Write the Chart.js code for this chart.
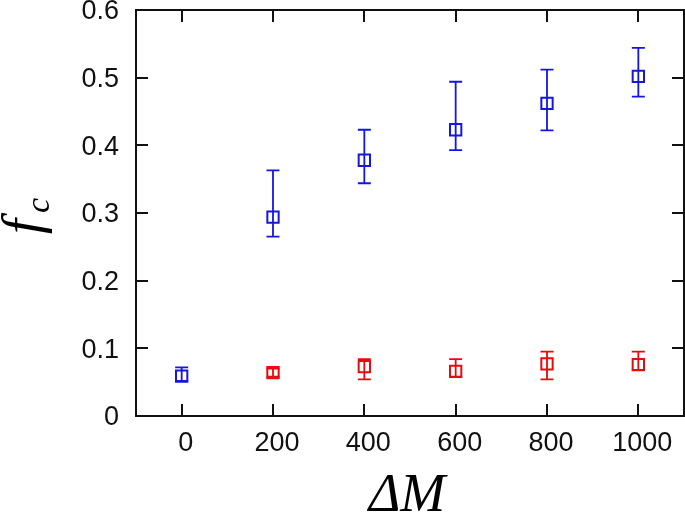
<!DOCTYPE html>
<html>
<head>
<meta charset="utf-8">
<script src="https://cdn.jsdelivr.net/npm/chart.js@4.4.1/dist/chart.umd.min.js"></script>
<style>
  html, body { margin: 0; padding: 0; background: #fff; }
  #plot { display: block; }
</style>
</head>
<body>
<canvas id="plot" width="685" height="513"></canvas>
<script>
// Data
const xTicks = [0, 200, 400, 600, 800, 1000];
const yTicks = [0, 0.1, 0.2, 0.3, 0.4, 0.5, 0.6];

const blueX = [0, 200, 400, 600, 800, 1000];
const blueY = [0.059, 0.294, 0.378, 0.423, 0.462, 0.502];
const blueLow = [0.052, 0.265, 0.344, 0.393, 0.422, 0.472];
const blueHigh = [0.072, 0.363, 0.423, 0.494, 0.512, 0.544];

const redX = [200, 400, 600, 800, 1000];
const redY = [0.064, 0.073, 0.066, 0.077, 0.076];
const redLow = [0.058, 0.054, 0.058, 0.054, 0.068];
const redHigh = [0.070, 0.084, 0.084, 0.095, 0.095];

const BLUE = 'rgb(22, 22, 225)';
const RED = 'rgb(228, 12, 12)';
const TICK_FONT = '"Liberation Sans", Arial, sans-serif';
const TITLE_FONT = '"Liberation Serif", "Times New Roman", serif';

function toPoints(xs, ys) {
    return xs.map((x, i) => ({ x: x, y: ys[i] }));
}

// no label overhang padding, so the plot box keeps its size
function noPadding(s) {
    s.paddingLeft = s.paddingRight = s.paddingTop = s.paddingBottom = 0;
}

// error bars with caps
const errorBars = {
    id: 'errorBars',
    afterDatasetsDraw(chart) {
        const ctx = chart.ctx;
        const xs = chart.scales.x, ys = chart.scales.y;
        chart.data.datasets.forEach(ds => {
            ctx.save();
            ctx.strokeStyle = ds.borderColor;
            ctx.lineWidth = 1.8;
            ds.data.forEach((p, i) => {
                const px = xs.getPixelForValue(p.x);
                const lo = ys.getPixelForValue(ds.errLow[i]);
                const hi = ys.getPixelForValue(ds.errHigh[i]);
                ctx.beginPath();
                ctx.moveTo(px, lo); ctx.lineTo(px, hi);
                ctx.moveTo(px - 6.5, lo); ctx.lineTo(px + 6.5, lo);
                ctx.moveTo(px - 6.5, hi); ctx.lineTo(px + 6.5, hi);
                ctx.stroke();
            });
            ctx.restore();
        });
    }
};

// box frame with inward ticks on all four sides, plus axis titles
const frame = {
    id: 'frame',
    afterDraw(chart) {
        const ctx = chart.ctx;
        const a = chart.chartArea;
        const xs = chart.scales.x, ys = chart.scales.y;
        const len = 12;
        ctx.save();
        ctx.strokeStyle = '#111';
        ctx.lineWidth = 2;
        ctx.strokeRect(a.left, a.top, a.right - a.left, a.bottom - a.top);
        ctx.beginPath();
        xTicks.forEach(v => {
            const px = Math.round(xs.getPixelForValue(v));
            ctx.moveTo(px, a.bottom); ctx.lineTo(px, a.bottom - len);
            ctx.moveTo(px, a.top); ctx.lineTo(px, a.top + len);
        });
        yTicks.forEach(v => {
            const py = Math.round(ys.getPixelForValue(v));
            ctx.moveTo(a.left, py); ctx.lineTo(a.left + len, py);
            ctx.moveTo(a.right, py); ctx.lineTo(a.right - len, py);
        });
        ctx.stroke();

        // x title: ΔM
        ctx.fillStyle = '#000';
        ctx.font = 'italic 54px ' + TITLE_FONT;
        ctx.textAlign = 'center';
        ctx.textBaseline = 'alphabetic';
        ctx.fillText('ΔM', 407, 511);

        // y title: f_c, rotated
        ctx.translate(40, 234);
        ctx.rotate(-Math.PI / 2);
        ctx.textAlign = 'left';
        ctx.font = 'italic 54px ' + TITLE_FONT;
        ctx.fillText('f', 0, 0);
        ctx.font = 'italic 34px ' + TITLE_FONT;
        ctx.fillText('c', 21, 9);
        ctx.restore();
    }
};

new Chart(document.getElementById('plot'), {
    type: 'scatter',
    data: {
        datasets: [
            {
                data: toPoints(blueX, blueY),
                errLow: blueLow, errHigh: blueHigh,
                borderColor: BLUE,
                backgroundColor: 'rgba(0,0,0,0)',
                pointStyle: 'rect', pointRadius: 8, borderWidth: 2
            },
            {
                data: toPoints(redX, redY),
                errLow: redLow, errHigh: redHigh,
                borderColor: RED,
                backgroundColor: 'rgba(0,0,0,0)',
                pointStyle: 'rect', pointRadius: 8, borderWidth: 2
            }
        ]
    },
    options: {
        responsive: false,
        devicePixelRatio: 1,
        animation: false,
        events: [],
        layout: { autoPadding: false, padding: { left: 0, right: 1, top: 10, bottom: 0 } },
        plugins: { legend: { display: false }, tooltip: { enabled: false } },
        scales: {
            x: {
                type: 'linear', min: -100, max: 1100,
                afterBuildTicks: s => { s.ticks = xTicks.map(v => ({ value: v })); },
                afterFit: s => { s.height = 97; noPadding(s); },
                grid: { display: false, drawTicks: false },
                border: { display: false },
                ticks: { color: '#111', padding: 11, labelOffset: 4,
                    font: { family: TICK_FONT, size: 27 },
                    maxRotation: 0, autoSkip: false, callback: v => String(v) }
            },
            y: {
                type: 'linear', min: 0, max: 0.6,
                afterBuildTicks: s => { s.ticks = yTicks.map(v => ({ value: v })); },
                afterFit: s => { s.width = 136; noPadding(s); },
                grid: { display: false, drawTicks: false },
                border: { display: false },
                ticks: { color: '#111', padding: 17, labelOffset: 2,
                    font: { family: TICK_FONT, size: 27 },
                    callback: v => v === 0 ? '0' : v.toFixed(1) }
            }
        }
    },
    plugins: [errorBars, frame]
});
</script>
</body>
</html>
